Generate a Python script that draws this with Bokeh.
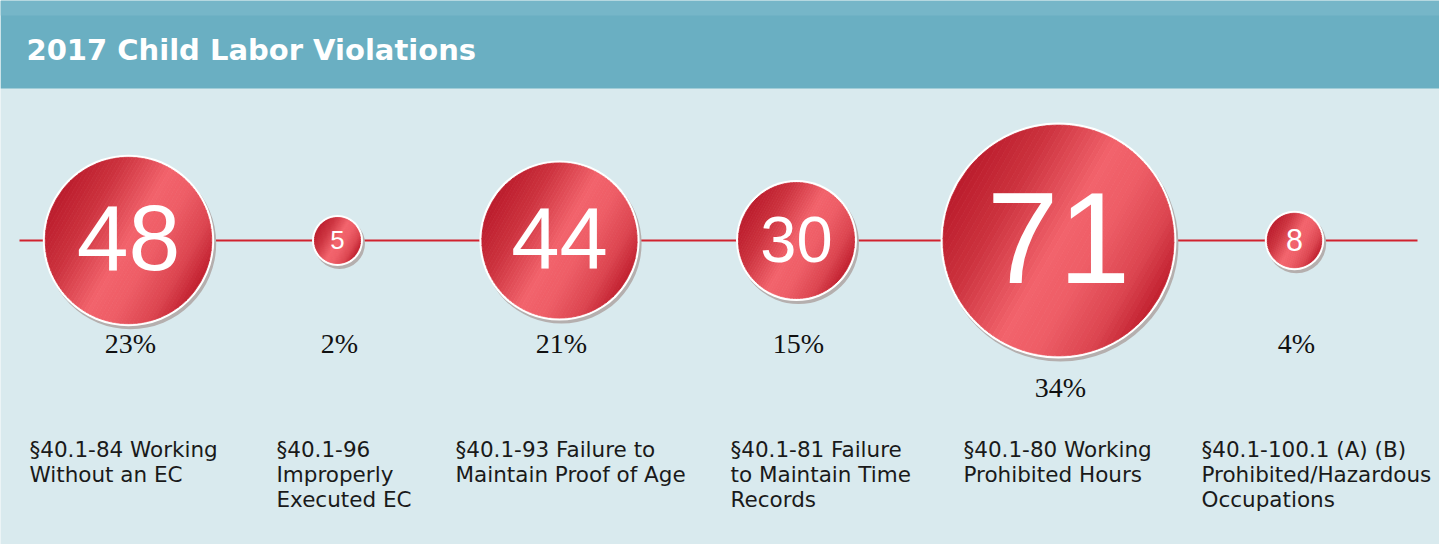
import numpy as np
from bokeh.plotting import figure
from bokeh.models import Range1d, ColumnDataSource, BoxAnnotation
from bokeh.embed import file_html
from bokeh.resources import INLINE
from bokeh.core.properties import value

# ---------------- data ----------------
title = "2017 Child Labor Violations"
counts = [48, 5, 44, 30, 71, 8]
labels = [
    ["§40.1-84 Working", "Without an EC"],
    ["§40.1-96", "Improperly", "Executed EC"],
    ["§40.1-93 Failure to", "Maintain Proof of Age"],
    ["§40.1-81 Failure", "to Maintain Time", "Records"],
    ["§40.1-80 Working", "Prohibited Hours"],
    ["§40.1-100.1 (A) (B)", "Prohibited/Hazardous", "Occupations"],
]

# ---------------- layout (pixels) ----------------
W, H = 1439, 544
col_center = [128, 337, 559, 796, 1058, 1294]   # column anchors
label_left = [29, 276, 455, 730, 963, 1201]
line_y = 240
BASE_FIX = 0.38   # renderer places alphabetic baseline ~0.38em low

BG = "#d9eaee"
HEADER = "#6aafc2"
HEADER_TOP = "#76b6c8"
LINE = "#d1222e"

total = sum(counts)
pcts = [f"{round(c / total * 100)}%" for c in counts]
radii = [16 + 1.4 * c for c in counts]

p = figure(width=W, height=H, x_range=Range1d(0, W), y_range=Range1d(H, 0),
           output_backend="svg", toolbar_location=None, min_border=0,
           background_fill_color=BG, border_fill_color=BG)
p.axis.visible = False
p.grid.visible = False
p.outline_line_color = None

# header band
p.add_layout(BoxAnnotation(top=0, bottom=88, fill_color=HEADER, fill_alpha=1, line_color=None, level="underlay"))
p.add_layout(BoxAnnotation(top=0, bottom=15, fill_color=HEADER_TOP, fill_alpha=1, line_color=None, level="underlay"))
p.text(x=[26], y=[61 - BASE_FIX * 29], text=[title], text_font=value("DejaVu Sans"), text_font_style="bold",
       text_font_size="29px", text_color="white", text_baseline="alphabetic")

# timeline line
p.line(x=[19, 1417], y=[line_y, line_y], line_color=LINE, line_width=2.2)

# shadows and white rings
p.circle(x=[c + 2 for c in col_center], y=[line_y + 3] * len(counts), radius=[r + 2.5 for r in radii],
         radius_units="screen", fill_color="#b5afae", line_color=None)
p.circle(x=col_center, y=[line_y] * len(counts), radius=[r + 2.5 for r in radii],
         radius_units="screen", fill_color="white", line_color=None)

# gradient-filled discs (diagonal strips)
stops_t = np.array([0.0, 0.22, 0.5, 0.66, 0.86, 1.0])
stops_c = np.array([[0xbb, 0x1c, 0x2c], [0xcc, 0x32, 0x3e], [0xf2, 0x63, 0x6c],
                    [0xee, 0x5d, 0x66], [0xdb, 0x44, 0x4f], [0xc1, 0x20, 0x2f]], dtype=float)


def col_at(t):
    rgb = [np.interp(t, stops_t, stops_c[:, i]) for i in range(3)]
    return "#%02x%02x%02x" % tuple(int(round(v)) for v in rgb)


ang = np.deg2rad(30)
ca, sa = np.cos(ang), np.sin(ang)
xs, ys, cols = [], [], []
n = 48
for cx, r in zip(col_center, radii):
    for k in range(n):
        u0 = -r + 2 * r * k / n
        u1 = -r + 2 * r * (k + 1) / n
        us = np.linspace(u0, u1, 6)
        vs = np.sqrt(np.clip(r * r - us * us, 0, None))
        uu = np.concatenate([us, us[::-1]])
        vv = np.concatenate([vs, -vs[::-1]])
        xs.append(list(cx + uu * ca - vv * sa))
        ys.append(list(line_y + uu * sa + vv * ca))
        cols.append(col_at((k + 0.5) / n))
p.patches(xs="xs", ys="ys", source=ColumnDataSource(dict(xs=xs, ys=ys, c=cols)),
          fill_color="c", line_color="c", line_width=0.8)

# counts inside circles
fs = [1.12 * r for r in radii]
p.text(x="x", y="y", text="t", source=ColumnDataSource(dict(
    x=col_center, y=[line_y + (0.358 - BASE_FIX) * f for f in fs], t=[str(c) for c in counts],
    fs=[f"{f:.1f}px" for f in fs])),
    text_font=value("Liberation Sans"), text_font_size="fs", text_color="white",
    text_align="center", text_baseline="alphabetic")

# percentages
pct_y = [(354 if line_y + r < 340 else line_y + r + 42) - BASE_FIX * 28 for r in radii]
p.text(x=[c + 2 for c in col_center], y=pct_y, text=pcts, text_font=value("Liberation Serif"),
       text_font_size="28px", text_color="#111111", text_align="center", text_baseline="alphabetic")

# category labels
lx, ly, lt = [], [], []
for x0, lines in zip(label_left, labels):
    for i, s in enumerate(lines):
        lx.append(x0)
        ly.append(457 + 25 * i - BASE_FIX * 21.5)
        lt.append(s)
p.text(x=lx, y=ly, text=lt, text_font=value("DejaVu Sans"), text_font_size="21.5px",
       text_color="#1a1a1a", text_align="left", text_baseline="alphabetic")

open("out.html", "w").write(file_html(p, INLINE))
